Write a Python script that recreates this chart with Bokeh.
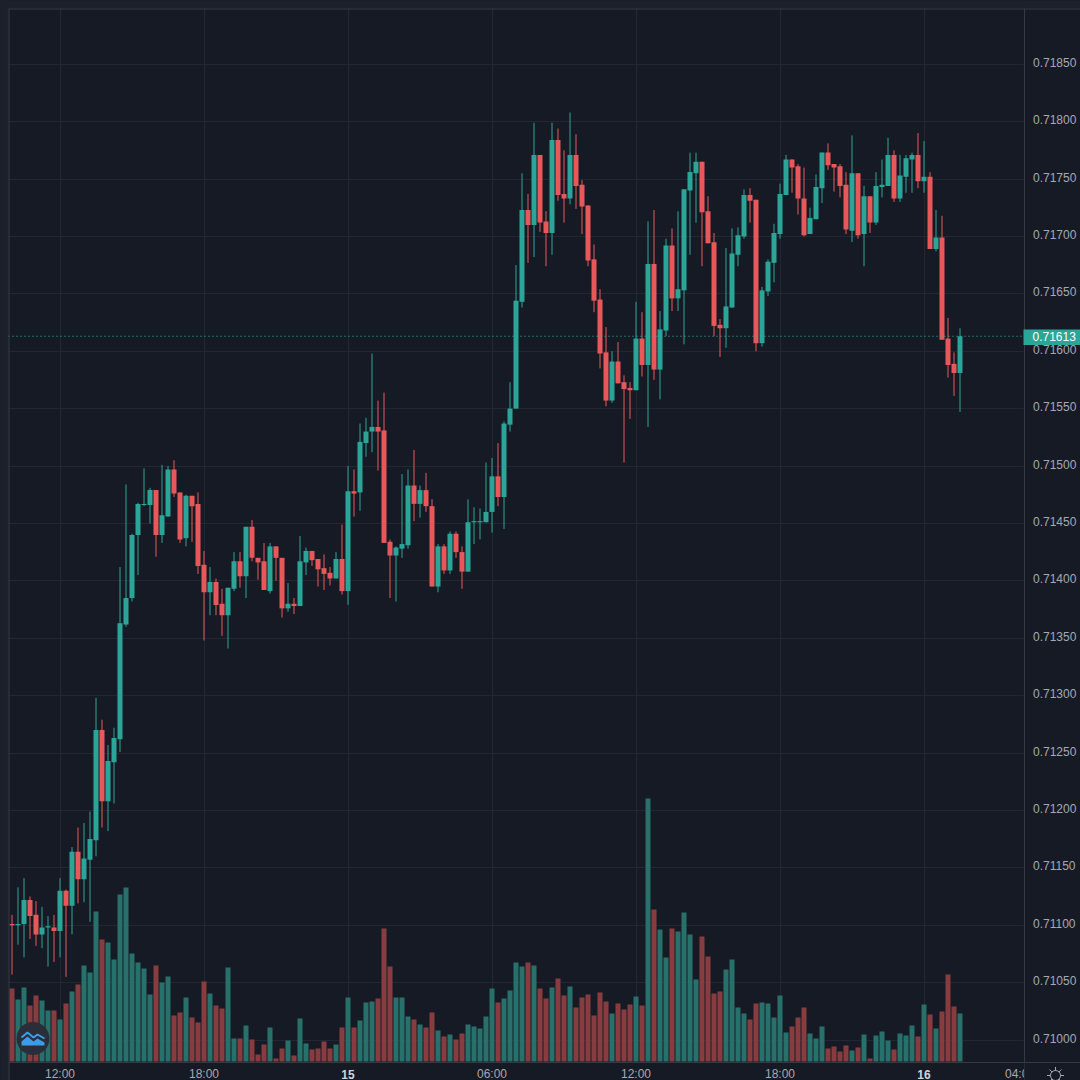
from bokeh.plotting import figure
from bokeh.embed import file_html
from bokeh.resources import INLINE
from bokeh.models import (ColumnDataSource, FixedTicker, NumeralTickFormatter, Range1d,
                          Label, BoxAnnotation)

# Prices in 1e-5 units (price = n / 100000), 15-minute candles
opens = [71101,71100,71101,71122,71109,71092,71098,71098,71095,71130,71117,71164,71140,71157,71174,71270,71208,71242,71262,71362,
71385,71440,71466,71466,71479,71440,71456,71497,71477,71437,71474,71467,71414,71390,71399,71380,71370,71393,71417,71404,
71447,71420,71417,71391,71430,71420,71376,71380,71378,71416,71426,71419,71411,71407,71402,71419,71391,71478,71477,71520,
71530,71534,71531,71434,71422,71428,71431,71483,71467,71479,71465,71395,71430,71409,71441,71425,71408,71451,71451,71451,
71460,71491,71473,71536,71550,71643,71723,71710,71771,71713,71703,71784,71737,71733,71771,71745,71727,71680,71645,71599,
71557,71591,71573,71568,71566,71611,71588,71676,71584,71618,71692,71646,71653,71740,71755,71765,71722,71695,71623,71620,
71638,71684,71700,71736,71732,71607,71652,71677,71702,71736,71767,71761,71733,71702,71715,71742,71773,71763,71761,71745,
71705,71755,71702,71735,71712,71743,71744,71771,71733,71752,71767,71771,71748,71752,71689,71699,71611,71589,71581]
highs = [71109,71133,71141,71125,71121,71116,71108,71109,71141,71131,71168,71185,71189,71199,71298,71279,71257,71272,71412,71484,
71441,71468,71498,71481,71479,71501,71500,71505,71477,71475,71474,71477,71426,71412,71402,71393,71394,71425,71425,71447,
71453,71420,71433,71433,71430,71420,71398,71385,71439,71429,71426,71419,71423,71412,71425,71449,71500,71497,71537,71542,
71598,71557,71564,71436,71430,71493,71497,71514,71483,71494,71471,71432,71432,71443,71443,71430,71471,71464,71463,71503,
71507,71520,71539,71573,71675,71755,71737,71799,71771,71722,71799,71794,71775,71808,71789,71749,71727,71693,71654,71621,
71600,71608,71579,71573,71643,71634,71713,71723,71635,71698,71707,71722,71741,71773,71773,71765,71735,71703,71628,71690,
71707,71708,71741,71742,71732,71656,71680,71711,71746,71771,71767,71763,71760,71725,71754,71773,71781,71763,71763,71756,
71788,71755,71744,71735,71756,71767,71786,71775,71771,71771,71773,71790,71783,71756,71723,71718,71629,71599,71620]
lows = [71057,71083,71072,71088,71082,71080,71064,71068,71072,71055,71092,71119,71120,71103,71160,71185,71182,71206,71251,71360,
71382,71405,71465,71450,71421,71433,71456,71473,71433,71430,71434,71406,71348,71370,71370,71352,71341,71391,71394,71385,
71417,71401,71392,71389,71400,71368,71373,71371,71378,71405,71413,71395,71392,71396,71402,71388,71379,71456,71461,71508,
71512,71496,71433,71385,71382,71420,71428,71452,71455,71460,71395,71390,71406,71406,71420,71393,71408,71432,71436,71451,
71442,71465,71445,71530,71550,71638,71677,71682,71704,71674,71684,71731,71712,71728,71724,71702,71674,71634,71585,71552,
71555,71572,71503,71541,71566,71578,71534,71575,71558,71613,71635,71635,71606,71684,71712,71674,71694,71613,71595,71603,
71638,71674,71698,71712,71600,71604,71648,71660,71698,71736,71738,71719,71700,71702,71715,71729,71758,71739,71734,71702,
71695,71698,71674,71703,71710,71734,71744,71730,71730,71738,71738,71742,71738,71689,71687,71610,71577,71561,71547]
closes = [71100,71101,71122,71108,71092,71098,71099,71095,71130,71117,71164,71140,71158,71175,71270,71208,71243,71263,71363,71385,
71440,71467,71467,71479,71440,71457,71497,71476,71436,71474,71465,71413,71390,71399,71379,71370,71394,71417,71404,71447,
71420,71416,71392,71430,71420,71376,71380,71378,71417,71426,71418,71410,71406,71402,71419,71391,71478,71476,71521,71530,
71534,71530,71433,71422,71429,71432,71483,71467,71479,71465,71395,71430,71409,71441,71425,71408,71451,71452,71452,71460,
71491,71473,71537,71550,71644,71723,71710,71771,71712,71703,71784,71736,71733,71771,71744,71726,71679,71644,71598,71557,
71591,71572,71567,71566,71611,71588,71676,71584,71619,71692,71646,71654,71741,71756,71765,71721,71694,71622,71620,71639,
71685,71701,71736,71731,71607,71653,71678,71703,71737,71767,71760,71733,71701,71716,71743,71773,71762,71760,71744,71706,
71755,71701,71735,71712,71744,71745,71771,71733,71753,71768,71771,71748,71752,71689,71699,71610,71588,71581,71613]
volumes = [73,62,74,56,66,61,51,51,42,58,70,77,96,89,150,122,119,102,167,174,
108,99,93,67,96,79,85,46,49,64,44,39,80,68,56,53,94,23,23,36,
22,7,17,34,3,13,21,6,43,18,12,13,20,13,17,34,64,34,41,59,
60,63,133,95,64,64,45,42,37,34,49,31,25,27,22,28,37,35,33,45,
73,59,63,71,99,95,99,96,73,63,74,83,66,75,54,64,67,46,69,60,
48,58,52,57,65,56,263,152,132,104,133,130,149,127,82,125,105,68,70,92,
102,54,48,42,58,59,58,44,66,29,35,44,54,28,23,35,13,15,10,16,
11,14,27,3,26,30,21,12,28,26,36,25,57,47,33,50,87,55,48]

price_ticks = [0.71000,0.71050,0.71100,0.71150,0.71200,0.71250,0.71300,0.71350,0.71400,
               0.71450,0.71500,0.71550,0.71600,0.71650,0.71700,0.71750,0.71800,0.71850]
time_ticks = [8,32,56,80,104,128,152,168]
time_labels = ["12:00","18:00","","06:00","12:00","18:00","","04:00"]
day_ticks = [56,152]
day_labels = ["15","16"]
last_price = 0.71613

BG = "#161a25"; OUTER = "#1c202b"; GRID = "#232733"; LINE = "#363a45"; TXT = "#a6a9b2"
UP = "#2ba597"; DOWN = "#e8585a"; VOL_UP = "#28706b"; VOL_DOWN = "#883c40"
FONT = "Liberation Sans"

# the plot frame covers the whole page
def dx(px): return (px-12.5)/6
def dy(py): return 0.711+(925.7-py)/114800
LABEL_LIFT = 2/114800   # price-scale texts sit a little above their grid lines

p = figure(width=1080, height=1080, output_backend="svg", toolbar_location=None,
           x_range=Range1d(dx(1),dx(1081)), y_range=Range1d(dy(1081),dy(1)), y_axis_location="right",
           min_border=0, background_fill_color=BG, border_fill_color=BG, outline_line_color=None)
p.extra_y_ranges = {"vol": Range1d(-19,1061),
                    "lab": Range1d(dy(1081)-LABEL_LIFT, dy(1)-LABEL_LIFT)}

idx = list(range(len(opens)))
ups = [c >= o for o,c in zip(opens,closes)]
src = ColumnDataSource(dict(
    x=idx,
    top=[max(o,c)/1e5 for o,c in zip(opens,closes)],
    bottom=[min(o,c)/1e5 for o,c in zip(opens,closes)],
    high=[v/1e5 for v in highs],
    low=[v/1e5 for v in lows],
    vol=volumes,
    color=[UP if u else DOWN for u in ups],
    vcolor=[VOL_UP if u else VOL_DOWN for u in ups]))

# panel backgrounds hide the grid under the scales
p.quad(left=dx(1024), right=dx(1085), top=dy(-5), bottom=dy(1085), fill_color=BG, line_color=None)
p.quad(left=dx(-5), right=dx(1085), top=dy(1063), bottom=dy(1085), fill_color=BG, line_color=None)
# outer band of the page
p.quad(left=dx(-5), right=dx(9), top=dy(-5), bottom=dy(1085), fill_color=OUTER, line_color=None)
p.quad(left=dx(-5), right=dx(1085), top=dy(-5), bottom=dy(9), fill_color=OUTER, line_color=None)

p.vbar(x="x", top="vol", bottom=0, width=5/6, fill_color="vcolor", line_color=None, source=src, y_range_name="vol")
p.segment(x0="x", x1="x", y0="low", y1="high", color="color", line_width=1, source=src)
p.vbar(x="x", top="top", bottom="bottom", width=5/6, fill_color="color", line_color=None, source=src)

p.segment(x0=[dx(9)], x1=[dx(1024)], y0=[last_price], y1=[last_price], line_color="#35b5a6", line_dash="1 3", line_width=1)

# frame edges
p.segment(x0=[dx(9.5)], x1=[dx(9.5)], y0=[dy(9)], y1=[dy(1085)], line_color=LINE, line_width=1)
p.segment(x0=[dx(9)], x1=[dx(1085)], y0=[dy(9.5)], y1=[dy(9.5)], line_color=LINE, line_width=1)

# axes and grids
p.yaxis.fixed_location = dx(1024.5)
p.xaxis.fixed_location = dy(1062.5)
p.yaxis[0].y_range_name = "lab"
p.yaxis.bounds = (dy(1085), dy(11))
p.xaxis.bounds = (dx(9), dx(1085))
p.yaxis.ticker = FixedTicker(ticks=price_ticks)
p.yaxis.formatter = NumeralTickFormatter(format="0.00000")
p.xaxis.ticker = FixedTicker(ticks=time_ticks)
p.xaxis.major_label_overrides = dict(zip(time_ticks, time_labels))
for ax in (p.xaxis[0], p.yaxis[0]):
    ax.axis_line_color = LINE
    ax.major_tick_line_color = None
    ax.minor_tick_line_color = None
    ax.major_tick_in = 0
    ax.major_tick_out = 0
    ax.minor_tick_in = 0
    ax.minor_tick_out = 0
    ax.major_label_text_color = TXT
    ax.major_label_text_font = FONT
    ax.major_label_text_font_size = "12px"
p.yaxis.major_label_standoff = 9
p.xaxis.major_label_standoff = 5
p.ygrid.ticker = FixedTicker(ticks=price_ticks)
p.xgrid.ticker = FixedTicker(ticks=time_ticks[:-1])
p.grid.grid_line_color = GRID
p.grid.grid_line_width = 1

# bold day labels on the time axis
for t, s in zip(day_ticks, day_labels):
    p.add_layout(Label(x=t, y=dy(1074.5), text=s, text_color="#d1d4dc", text_font=FONT, text_font_size="12px",
                       text_font_style="bold", text_align="center", text_baseline="middle"))

# clip of the "04:00" label where the price scale begins
p.add_layout(BoxAnnotation(left=dx(1025), right=dx(1040), top=dy(1063.5), bottom=dy(1085),
                           fill_color=BG, fill_alpha=1, line_color=None, level="overlay"))

# last price tag
p.add_layout(BoxAnnotation(left=dx(1024), right=dx(1085), top=dy(330), bottom=dy(345.5),
                           fill_color=UP, fill_alpha=1, line_color=None, level="overlay"))
p.add_layout(Label(x=dx(1033), y=last_price, text="%.5f" % last_price, text_color="#ffffff", text_font=FONT,
                   text_font_size="12px", text_align="left", text_baseline="middle", level="overlay"))

# settings icon
p.scatter([dx(1056)],[dy(1076)], size=17, marker="asterisk", line_color=TXT, line_width=1, fill_color=None)
p.scatter([dx(1056)],[dy(1076)], size=10, marker="circle", line_color=TXT, line_width=1, fill_color=BG)

# logo
p.scatter([dx(33.5)],[dy(1039)], size=33, marker="circle", fill_color="#2a2e39", line_color=None)
cx = [22,28,34,38,45,45,22]
cy = [1042,1037,1042,1039,1043,1046,1046]
p.patch([dx(v) for v in cx],[dy(v) for v in cy], fill_color="#3d9cea", line_color=None)
lx = [22,28,34,38,45]
ly = [1038,1033,1038,1035,1039]
p.line([dx(v) for v in lx],[dy(v) for v in ly], line_color="#3d9cea", line_width=2)

html = file_html(p, INLINE)
html = html.replace("</head>", "<style>html,body{margin:0 !important;padding:0;background:%s;overflow:hidden}</style></head>" % OUTER, 1)
open("out.html", "w").write(html)
